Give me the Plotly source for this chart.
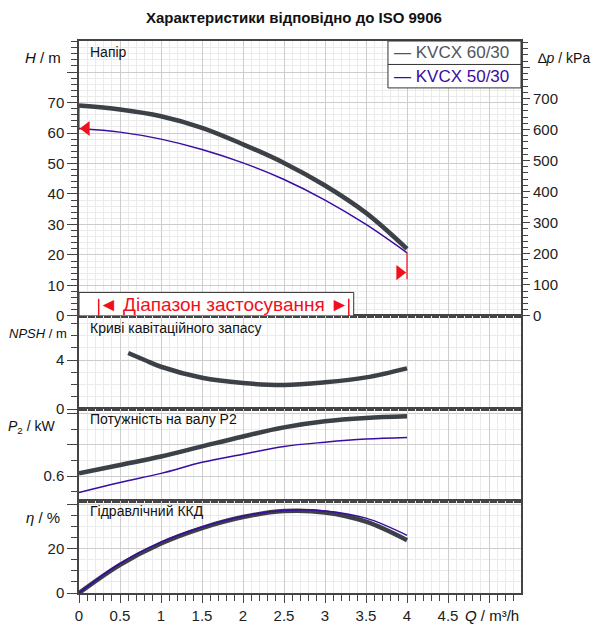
import plotly.graph_objects as go
from plotly.subplots import make_subplots

# ── Data ──
q = [0, 0.5, 1, 1.5, 2, 2.5, 3, 3.5, 4]

head_60 = [69.0, 67.7, 65.5, 61.7, 56.3, 50.2, 42.8, 33.8, 22.0]
head_50 = [61.5, 60.3, 58.0, 54.6, 50.2, 44.75, 38.0, 30.0, 20.7]

q_npsh = [0.6, 0.8, 1, 1.5, 2, 2.5, 3, 3.5, 4]
npsh_60 = [4.57, 4.0, 3.45, 2.55, 2.12, 1.96, 2.18, 2.58, 3.32]

power_60 = [0.617, 0.671, 0.725, 0.79, 0.854, 0.912, 0.951, 0.972, 0.983]
power_50 = [0.495, 0.559, 0.617, 0.688, 0.74, 0.79, 0.817, 0.837, 0.847]

eff_60 = [0, 12.8, 22.5, 29.5, 34.5, 37.2, 36.6, 32.4, 24.0]
eff_50 = [0, 13.4, 23.1, 30.0, 34.9, 37.5, 37.3, 34.0, 26.2]

# operating range markers (Q, H)
start_q = [0, 0]
start_h = [69.0, 61.0]
start_arrow = (0.09, 61.5)
end_q = [4, 4]
end_h = [20.8, 12.0]
end_arrow = (3.91, 14.2)
range_q = [0.24, 3.29]
range_box = (3.35, 7.7)

x_ticks = [0, 0.5, 1, 1.5, 2, 2.5, 3, 3.5, 4, 4.5, 5]
x_labels = ['0', '0.5', '1', '1.5', '2', '2.5', '3', '3.5', '4', '4.5', '']
h_ticks = [0, 10, 20, 30, 40, 50, 60, 70, 80]
h_labels = ['0', '10', '20', '30', '40', '50', '60', '70', '']
p_ticks = [0, 100, 200, 300, 400, 500, 600, 700, 800]
p_labels = ['0', '100', '200', '300', '400', '500', '600', '700', '']
npsh_ticks = [0, 4]
power_ticks = [0.6, 0.8, 1.0]
power_labels = ['0.6', '', '']
eff_ticks = [0, 20, 40]
eff_labels = ['0', '20', '']

DARK = '#3c4148'
PURPLE = '#3a0ca3'
RED = '#f0101c'
FONT = 'Liberation Sans, Arial, sans-serif'
H_MAX = 90.2

fig = make_subplots(rows=4, cols=1, shared_xaxes=True, vertical_spacing=0,
                    specs=[[{'secondary_y': True}], [{}], [{}], [{}]])

# ── Head ──
fig.add_trace(go.Scatter(x=q, y=head_60, mode='lines', line=dict(color=DARK, width=4.5, shape='spline')),
              row=1, col=1)
fig.add_trace(go.Scatter(x=q, y=head_50, mode='lines', line=dict(color=PURPLE, width=1.5, shape='spline')),
              row=1, col=1)
fig.add_trace(go.Scatter(x=start_q, y=start_h, mode='lines', line=dict(color=RED, width=1.2)), row=1, col=1)
fig.add_trace(go.Scatter(x=end_q, y=end_h, mode='lines', line=dict(color=RED, width=1.2)), row=1, col=1)
fig.add_trace(go.Scatter(x=[start_arrow[0], end_arrow[0]], y=[start_arrow[1], end_arrow[1]], mode='markers',
                         marker=dict(symbol=['triangle-left', 'triangle-right'], size=13, color=RED)),
              row=1, col=1)
# empty trace on the kPa axis so it gets drawn
fig.add_trace(go.Scatter(x=[None], y=[None], mode='lines'), row=1, col=1, secondary_y=True)

# ── NPSH ──
fig.add_trace(go.Scatter(x=q_npsh, y=npsh_60, mode='lines', line=dict(color=DARK, width=4.5, shape='spline')),
              row=2, col=1)

# ── Power ──
fig.add_trace(go.Scatter(x=q, y=power_60, mode='lines', line=dict(color=DARK, width=4.5, shape='spline')),
              row=3, col=1)
fig.add_trace(go.Scatter(x=q, y=power_50, mode='lines', line=dict(color=PURPLE, width=1.5, shape='spline')),
              row=3, col=1)

# ── Efficiency ──
fig.add_trace(go.Scatter(x=q, y=eff_60, mode='lines', line=dict(color=DARK, width=4.5, shape='spline')),
              row=4, col=1)
fig.add_trace(go.Scatter(x=q, y=eff_50, mode='lines', line=dict(color=PURPLE, width=1.5, shape='spline')),
              row=4, col=1)

grid_major = '#cdcdcd'
grid_minor = '#ebebeb'
axis_common = dict(showline=True, linecolor='#444', linewidth=1.5, mirror=True, automargin=False,
                   gridcolor=grid_major, gridwidth=1, zeroline=False,
                   tickfont=dict(family=FONT, size=15, color='#222'), tickcolor='#444')

fig.update_xaxes(domain=[0, 1], range=[0, 5.39], tickmode='array', tickvals=x_ticks, ticktext=x_labels,
                 ticks='', showticklabels=False,
                 minor=dict(dtick=0.1, tick0=0, showgrid=True, gridcolor=grid_minor, ticks=''),
                 **axis_common)
fig.update_xaxes(row=4, col=1, ticks='outside', ticklen=8, showticklabels=True,
                 minor=dict(dtick=0.1, tick0=0, showgrid=True, gridcolor=grid_minor,
                            ticks='outside', ticklen=6, tickcolor='#444'))

ymin = dict(ticks='outside', ticklen=6, tickcolor='#444', showgrid=True, gridcolor=grid_minor)
fig.update_layout(
    yaxis=dict(domain=[0.502, 1], range=[0, H_MAX], tickmode='array', tickvals=h_ticks, ticktext=h_labels,
               ticks='outside', ticklen=10, minor=dict(dtick=2, **ymin), **axis_common),
    yaxis2=dict(range=[0, H_MAX * 9.81], tickmode='array', tickvals=p_ticks, ticktext=p_labels,
                ticks='outside', ticklen=8, showgrid=False, zeroline=False, showline=False, automargin=False,
                minor=dict(dtick=20, ticks='outside', ticklen=6, tickcolor='#444', showgrid=False),
                tickfont=dict(family=FONT, size=15, color='#222'), tickcolor='#444'),
    yaxis3=dict(domain=[0.3333, 0.502], range=[0, 7.6], tickmode='array', tickvals=npsh_ticks,
                ticks='outside', ticklen=10, minor=dict(dtick=1, **ymin), **axis_common),
    yaxis4=dict(domain=[0.1667, 0.3333], range=[0.44, 1.03], tickmode='array', tickvals=power_ticks,
                ticktext=power_labels, ticks='outside', ticklen=10, minor=dict(dtick=0.1, tick0=0, **ymin),
                **axis_common),
    yaxis5=dict(domain=[0, 0.1667], range=[0, 41.8], tickmode='array', tickvals=eff_ticks, ticktext=eff_labels,
                ticks='outside', ticklen=10, minor=dict(dtick=5, **ymin), **axis_common),
)

# ── Shapes: range box + legend frame ──
shapes = [
    dict(type='rect', xref='x', yref='y', x0=0, x1=range_box[0], y0=0, y1=range_box[1],
         fillcolor='white', line=dict(color='#333', width=1), layer='above'),
    dict(type='line', xref='x', yref='y', x0=range_q[0], x1=range_q[0], y0=0, y1=5.6,
         line=dict(color=RED, width=1.5)),
    dict(type='line', xref='x', yref='y', x0=range_q[1], x1=range_q[1], y0=0, y1=5.6,
         line=dict(color=RED, width=1.5)),
    dict(type='rect', xref='paper', yref='paper', x0=0.699, x1=1, y0=0.915, y1=1,
         fillcolor='white', line=dict(color='#333', width=1), layer='above'),
    dict(type='line', xref='paper', yref='paper', x0=0.699, x1=1, y0=0.9575, y1=0.9575,
         line=dict(color='#333', width=1)),
]

def ann(text, x, y, xanchor='left', size=14, color='#111', xref='paper', yref='paper'):
    return dict(text=text, x=x, y=y, xref=xref, yref=yref, xanchor=xanchor, yanchor='middle',
                showarrow=False, font=dict(family=FONT, size=size, color=color))

annotations = [
    dict(text='<b>Характеристики відповідно до ISO 9906</b>', x=0.486, y=1.043, xref='paper', yref='paper',
         xanchor='center', yanchor='middle', showarrow=False, font=dict(family=FONT, size=15, color='#111')),
    ann('— KVCX 60/30', 0.709, 0.979, size=17, color='#4f565e'),
    ann('— KVCX 50/30', 0.709, 0.936, size=17, color=PURPLE),
    ann('◄ Діапазон застосування ►', 1.77, 3.9, xanchor='center', size=19, color=RED, xref='x', yref='y'),
    ann('Напір', 0.02, 0.980),
    ann('Криві кавітаційного запасу', 0.02, 0.480),
    ann('Потужність на валу P2', 0.02, 0.315),
    ann('Гідравлічний ККД', 0.02, 0.149),
    ann('<i>H</i> / m', -0.036, 0.971, xanchor='right', size=15),
    ann('∆<i>p</i> / kPa', 1.034, 0.969, size=14),
    ann('<i>NPSH</i> / m', -0.022, 0.471, xanchor='right', size=13),
    ann('<i>P</i><sub>2</sub> / kW', -0.05, 0.30, xanchor='right', size=14),
    ann('<i>η</i> / %', -0.038, 0.136, xanchor='right', size=15),
    ann('<i>Q</i> / m³/h', 1.0, -0.040, xanchor='right', size=15),
]

# the page sits 8 px in from the window corner, so margins are shifted by that much
fig.update_layout(
    width=600, height=634,
    margin=dict(l=71, r=87, t=33, b=49),
    paper_bgcolor='white', plot_bgcolor='white',
    showlegend=False,
    shapes=shapes, annotations=annotations,
    font=dict(family=FONT),
)

fig.write_html('out.html')
